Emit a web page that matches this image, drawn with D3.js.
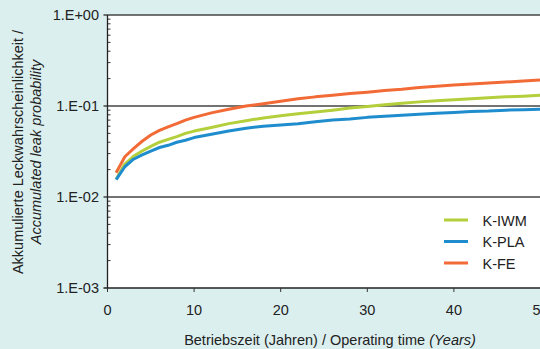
<!DOCTYPE html>
<html>
<head>
<meta charset="utf-8">
<script src="https://cdn.jsdelivr.net/npm/d3@7"></script>
<style>
  body { margin: 0; background: #dcefef; }
  svg { display: block; font-family: "Liberation Sans", Arial, sans-serif; }
</style>
</head>
<body>
<svg id="chart" width="540" height="349"></svg>
<script>
// Operating time in years
var years = [1, 2, 3, 4, 5, 6, 7, 8, 9, 10, 12, 14, 16, 18, 20, 22, 24, 26, 28, 30,
             32, 34, 36, 38, 40, 42, 44, 46, 48, 50];

// Accumulated leak probability per series
var kIWM = [0.0157, 0.023, 0.028, 0.032, 0.036, 0.040, 0.043, 0.046, 0.050, 0.053,
            0.058, 0.064, 0.069, 0.074, 0.078, 0.082, 0.086, 0.090, 0.095, 0.099,
            0.103, 0.107, 0.111, 0.114, 0.117, 0.120, 0.123, 0.126, 0.128, 0.131];
var kPLA = [0.0155, 0.0215, 0.026, 0.029, 0.032, 0.035, 0.037, 0.040, 0.042, 0.045,
            0.049, 0.053, 0.057, 0.060, 0.062, 0.064, 0.067, 0.070, 0.072, 0.075,
            0.077, 0.079, 0.081, 0.083, 0.085, 0.087, 0.088, 0.090, 0.091, 0.092];
var kFE = [0.0185, 0.0277, 0.034, 0.041, 0.048, 0.054, 0.059, 0.064, 0.070, 0.075,
           0.084, 0.092, 0.100, 0.106, 0.113, 0.120, 0.126, 0.131, 0.137, 0.142,
           0.148, 0.153, 0.160, 0.165, 0.170, 0.175, 0.179, 0.183, 0.188, 0.193];

var seriesNames = ["K-IWM", "K-PLA", "K-FE"];
var seriesColors = ["#b3cf3b", "#1f8dcd", "#f26b36"];
var seriesValues = [kIWM, kPLA, kFE];

var xTicks = [0, 10, 20, 30, 40, 50];
var yTicks = [1, 0.1, 0.01, 0.001];
var yTickLabels = ["1.E+00", "1.E-01", "1.E-02", "1.E-03"];

var FONT = "14.5px";

var svg = d3.select("#chart");

var xScale = d3.scaleLinear().domain([0, 50]).range([107.5, 540.5]);
var yScale = d3.scaleLog().domain([0.001, 1]).range([288, 15]);

// plot area
svg.append("rect")
  .attr("x", xScale(0))
  .attr("y", yScale(1))
  .attr("width", 540 - xScale(0))
  .attr("height", yScale(0.001) - yScale(1))
  .style("fill", "#ffffff");

// horizontal grid lines at each decade
svg.append("g").selectAll("line")
  .data(yTicks)
  .enter()
  .append("line")
  .attr("x1", xScale(0) - 4)
  .attr("x2", 540)
  .attr("y1", function (d) { return yScale(d); })
  .attr("y2", function (d) { return yScale(d); })
  .style("stroke", function (d) { return d == 0.001 ? "#222" : "#444"; })
  .style("stroke-width", 1.3);

// minor ticks on the y axis (inside)
var minor = [];
[0.001, 0.01, 0.1].forEach(function (dec) {
  for (var k = 2; k <= 9; k++) minor.push(dec * k);
});
svg.append("g").selectAll("line")
  .data(minor)
  .enter()
  .append("line")
  .attr("x1", xScale(0))
  .attr("x2", xScale(0) + 3)
  .attr("y1", function (d) { return yScale(d); })
  .attr("y2", function (d) { return yScale(d); })
  .style("stroke", "#333")
  .style("stroke-width", 1);

// y axis line
svg.append("line")
  .attr("x1", xScale(0)).attr("x2", xScale(0))
  .attr("y1", yScale(1)).attr("y2", yScale(0.001))
  .style("stroke", "#222").style("stroke-width", 1.3);

// y tick labels
svg.append("g").selectAll("text")
  .data(yTicks)
  .enter()
  .append("text")
  .attr("x", 99)
  .attr("y", function (d) { return yScale(d) + 5; })
  .attr("text-anchor", "end")
  .style("font-size", FONT)
  .style("fill", "#222")
  .text(function (d, i) { return yTickLabels[i]; });

// x ticks
svg.append("g").selectAll("line")
  .data(xTicks)
  .enter()
  .append("line")
  .attr("x1", function (d) { return xScale(d); })
  .attr("x2", function (d) { return xScale(d); })
  .attr("y1", yScale(0.001))
  .attr("y2", yScale(0.001) + 4)
  .style("stroke", "#333")
  .style("stroke-width", 1);

svg.append("g").selectAll("text")
  .data(xTicks)
  .enter()
  .append("text")
  .attr("x", function (d) { return xScale(d); })
  .attr("y", 315)
  .attr("text-anchor", "middle")
  .style("font-size", FONT)
  .style("fill", "#222")
  .text(function (d) { return d; });

// lines
var line = d3.line()
  .x(function (d) { return xScale(d[0]); })
  .y(function (d) { return yScale(d[1]); });

svg.append("g").selectAll("path")
  .data(seriesValues)
  .enter()
  .append("path")
  .attr("d", function (vals) {
    return line(years.map(function (y, i) { return [y, vals[i]]; }));
  })
  .style("fill", "none")
  .style("stroke", function (d, i) { return seriesColors[i]; })
  .style("stroke-width", 3)
  .style("stroke-linejoin", "round");

// legend
var legend = svg.append("g").selectAll("g")
  .data(seriesNames)
  .enter()
  .append("g")
  .attr("transform", function (d, i) { return "translate(444," + (220 + i * 21.5) + ")"; });

legend.append("line")
  .attr("x1", 0).attr("x2", 24)
  .style("stroke", function (d, i) { return seriesColors[i]; })
  .style("stroke-width", 3);

legend.append("text")
  .attr("x", 38.5)
  .attr("y", 5.5)
  .style("font-size", FONT)
  .style("fill", "#222")
  .text(function (d) { return d; });

// axis titles
svg.append("text")
  .attr("x", 330)
  .attr("y", 345)
  .attr("text-anchor", "middle")
  .style("font-size", FONT)
  .style("fill", "#222")
  .text("Betriebszeit (Jahren) / Operating time ")
  .append("tspan")
  .style("font-style", "italic")
  .text("(Years)");

var yTitle = svg.append("text")
  .attr("transform", "translate(0,152) rotate(-90)")
  .attr("text-anchor", "middle")
  .style("font-size", FONT)
  .style("fill", "#222");
yTitle.append("tspan").attr("x", 0).attr("y", 23)
  .text("Akkumulierte Leckwahrscheinlichkeit /");
yTitle.append("tspan").attr("x", 0).attr("y", 41)
  .style("font-style", "italic")
  .text("Accumulated leak probability");
</script>
</body>
</html>
